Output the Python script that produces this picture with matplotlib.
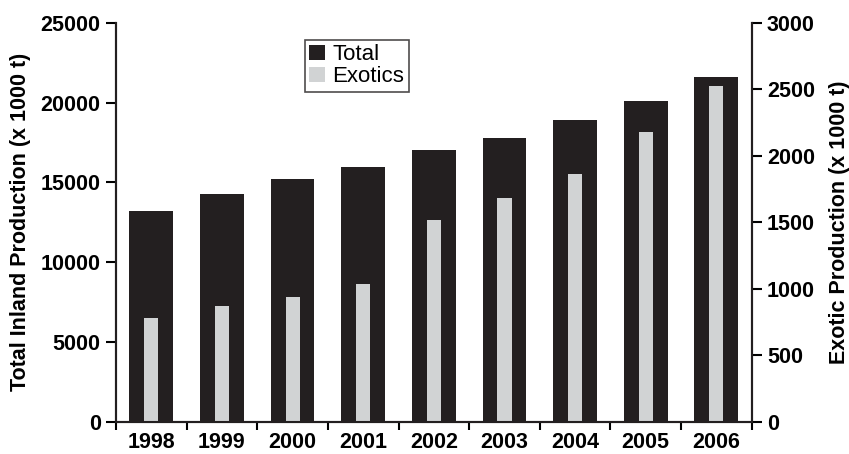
import matplotlib.pyplot as plt
from matplotlib.ticker import FixedLocator

years = ['1998', '1999', '2000', '2001', '2002', '2003', '2004', '2005', '2006']
total = [13210, 14280, 15220, 15970, 17010, 17780, 18910, 20100, 21600]
exotics = [781, 871, 939, 1037, 1518, 1683, 1863, 2179, 2524]

plt.rcParams['font.family'] = ['Liberation Sans', 'DejaVu Sans']

fig = plt.figure(figsize=(8.49, 4.54), dpi=100)
ax = fig.add_axes([0.1366, 0.0705, 0.7488, 0.8795])
ax2 = ax.twinx()

x = [i + 0.5 for i in range(len(years))]
b1 = ax.bar(x, total, width=0.62, color='#231f20', zorder=1)
b2 = ax2.bar(x, exotics, width=0.2, color='#d1d3d4', zorder=2)

ax.set_xlim(0, len(years))
ax.set_ylim(0, 25000)
ax2.set_ylim(0, 3000)
ax.set_yticks(range(0, 25001, 5000))
ax2.set_yticks(range(0, 3001, 500))

# ticks at category edges, labels in the middle
ax.xaxis.set_major_locator(FixedLocator(range(len(years) + 1)))
ax.xaxis.set_minor_locator(FixedLocator(x))
ax.set_xticklabels([''] * (len(years) + 1))
ax.set_xticklabels(years, minor=True)
ax.tick_params(axis='x', which='major', direction='out', length=6, width=1.5)
ax.tick_params(axis='x', which='minor', length=0, pad=7, labelsize=15.5)
for lab in ax.get_xticklabels(minor=True):
    lab.set_fontweight('bold')

ax.tick_params(axis='y', direction='out', length=7, width=1.5, pad=4, labelsize=15.5)
ax2.tick_params(axis='y', direction='out', length=7, width=1.5, pad=4, labelsize=15.5)
for lab in ax.get_yticklabels() + ax2.get_yticklabels():
    lab.set_fontweight('bold')

for a in (ax, ax2):
    a.spines['top'].set_visible(False)
    for s in ('left', 'right', 'bottom'):
        a.spines[s].set_linewidth(1.5)
        a.spines[s].set_color('#231f20')

ax.set_ylabel('Total Inland Production (x 1000 t)', fontsize=15.5, fontweight='bold', labelpad=7)
ax2.set_ylabel('Exotic Production (x 1000 t)', fontsize=15.5, fontweight='bold', labelpad=10)

leg = ax2.legend([b1, b2], ['Total', 'Exotics'], loc='upper left',
                 bbox_to_anchor=(0.297, 0.957), fontsize=16, frameon=True,
                 fancybox=False, edgecolor='#231f20', handlelength=0.7,
                 handleheight=0.7, handletextpad=0.35, borderpad=0.2,
                 labelspacing=0.05, borderaxespad=0)
leg.get_frame().set_linewidth(1.2)

plt.savefig('out.png', dpi=100)
